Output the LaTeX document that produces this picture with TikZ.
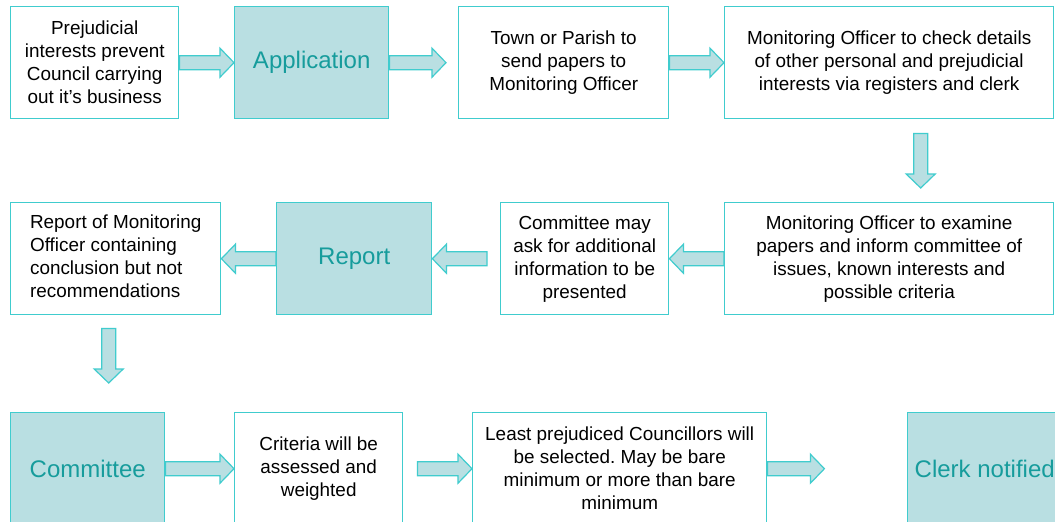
\documentclass[tikz,border=0pt]{standalone}
\usepackage{fontspec}
\setmainfont{Liberation Sans}
\usetikzlibrary{calc}
\frenchspacing

\definecolor{edge}{RGB}{64,204,206}
\definecolor{pale}{RGB}{185,223,226}
\definecolor{tealtext}{RGB}{22,156,156}

\tikzset{
  boxbase/.style={draw=edge, line width=1.4pt, minimum height=112pt,
    anchor=north west, inner sep=0pt, align=center},
  plainbox/.style={boxbase, fill=white, text=black,
    font=\fontsize{18.9}{23}\selectfont},
  keybox/.style={boxbase, fill=pale, text=tealtext,
    font=\fontsize{24}{28}\selectfont},
  arrowbody/.style={draw=edge, fill=pale, line width=1.2pt, line join=miter},
}

% block arrow from tail #1 to tip #2 (any direction)
\newcommand\blockarrow[2]{%
  \coordinate (hb) at ($(#2)!14pt!(#1)$);
  \path[arrowbody]
    ($(#1)!7pt!90:(#2)$) -- ($(hb)!7pt!-90:(#1)$) -- ($(hb)!14.5pt!-90:(#1)$)
    -- (#2) -- ($(hb)!14.5pt!90:(#1)$) -- ($(hb)!7pt!90:(#1)$)
    -- ($(#1)!7pt!-90:(#2)$) -- cycle;}

\begin{document}
\begin{tikzpicture}[x=1pt, y=-1pt]
  \useasboundingbox (0,0) rectangle (1055,522);
  \fill[white] (0,0) rectangle (1055,522);
  \clip (0,0) rectangle (1055,522);

  % top row
  \node[plainbox, minimum width=168pt] (prej) at (10,6)
    {Prejudicial\\interests prevent\\Council carrying\\out it’s business};
  \node[keybox, minimum width=154pt] (app) at (234,6) {Application};
  \node[plainbox, minimum width=210pt] (town) at (458,6)
    {Town or Parish to\\send papers to\\Monitoring Officer};
  \node[plainbox, minimum width=329pt] (check) at (724,6)
    {Monitoring Officer to check details\\of other personal and prejudicial\\interests via registers and clerk};

  % middle row
  \node[plainbox, minimum width=210pt] (concl) at (10,202)
    {\begin{tabular}{@{}l@{}}Report of Monitoring\\Officer containing\\conclusion but not\\recommendations\end{tabular}};
  \node[keybox, minimum width=155pt] (report) at (276,202) {Report};
  \node[plainbox, minimum width=168pt] (ask) at (500,202)
    {Committee may\\ask for additional\\information to be\\presented};
  \node[plainbox, minimum width=329pt] (exam) at (724,202)
    {Monitoring Officer to examine\\papers and inform committee of\\issues, known interests and\\possible criteria};

  % bottom row
  \node[keybox, minimum width=154pt] (comm) at (10,412) {Committee};
  \node[plainbox, minimum width=168pt] (crit) at (234,412)
    {Criteria will be\\assessed and\\weighted};
  \node[plainbox, minimum width=294pt] (least) at (472,412)
    {Least prejudiced Councillors will\\be selected. May be bare\\minimum or more than bare\\minimum};
  \node[keybox, minimum width=154pt] (clerk) at (907,412) {Clerk notified};

  % free arrow ends
  \coordinate (appgap) at ($(town.west)+(-12,0)$);
  \coordinate (downA1) at ($(check.south)+(31.5,14)$);
  \coordinate (downA2) at ($(exam.north)+(31.5,-14)$);
  \coordinate (reptail) at ($(ask.west)+(-13,0)$);
  \coordinate (downB1) at ($(concl.south)+(-7,13)$);
  \coordinate (downB2) at ($(comm.north)+(21,-29)$);
  \coordinate (crittail) at ($(crit.east)+(14,0)$);
  \coordinate (leasttip) at ($(least.east)+(57,0)$);

  % connectors
  \blockarrow{prej.east}{app.west}
  \blockarrow{app.east}{appgap}
  \blockarrow{town.east}{check.west}
  \blockarrow{downA1}{downA2}
  \blockarrow{exam.west}{ask.east}
  \blockarrow{reptail}{report.east}
  \blockarrow{report.west}{concl.east}
  \blockarrow{downB1}{downB2}
  \blockarrow{comm.east}{crit.west}
  \blockarrow{crittail}{least.west}
  \blockarrow{least.east}{leasttip}
\end{tikzpicture}
\end{document}
